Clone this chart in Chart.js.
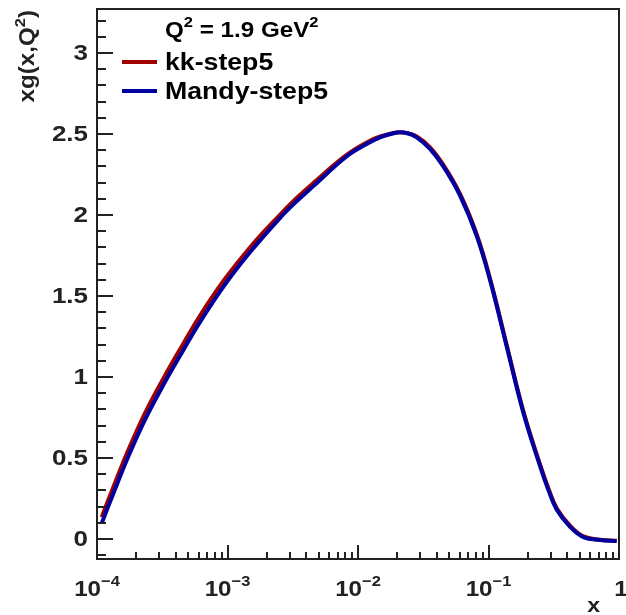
<!DOCTYPE html>
<html>
<head>
<meta charset="utf-8">
<script src="https://cdn.jsdelivr.net/npm/chart.js@4.4.1/dist/chart.umd.min.js"></script>
<style>
  body { margin: 0; background: #fff; }
  #plot { display: block; }
</style>
</head>
<body>
<canvas id="plot" width="626" height="615"></canvas>
<script>
// values
const xValues = [1.086e-4, 1.349e-4, 1.718e-4, 2.344e-4, 3.221e-4, 4.467e-4, 6.166e-4, 9.55e-4,
    1.486e-3, 2.512e-3, 3.388e-3, 4.571e-3, 8.128e-3, 1.175e-2, 1.479e-2, 1.995e-2, 2.399e-2,
    2.818e-2, 3.548e-2, 4.508e-2, 6.053e-2, 8.128e-2, 0.1026, 0.1377, 0.1849, 0.2483, 0.2884,
    0.3334, 0.4217, 0.5333, 0.7145, 0.9594];
const kkValues = [0.135, 0.33, 0.54, 0.78, 0.99, 1.19, 1.38, 1.605,
    1.80, 2.00, 2.105, 2.20, 2.37, 2.45, 2.485, 2.51, 2.505,
    2.485, 2.42, 2.31, 2.13, 1.88, 1.61, 1.20, 0.79, 0.46, 0.31,
    0.19, 0.082, 0.016, -0.004, -0.011];
const mandyValues = [0.097, 0.29, 0.50, 0.74, 0.95, 1.15, 1.34, 1.57,
    1.77, 1.98, 2.085, 2.18, 2.36, 2.44, 2.48, 2.51, 2.505,
    2.48, 2.41, 2.30, 2.12, 1.87, 1.60, 1.19, 0.78, 0.45, 0.30,
    0.18, 0.075, 0.012, -0.006, -0.012];

const yTicks = [0, 0.5, 1, 1.5, 2, 2.5, 3];
const yTickLabels = ['0', '0.5', '1', '1.5', '2', '2.5', '3'];
const xTicks = [1e-4, 1e-3, 1e-2, 1e-1, 1];
const xTickBase = ['10', '10', '10', '10', '1'];
const xTickExp = ['\u22124', '\u22123', '\u22122', '\u22121', ''];

const seriesNames = ['kk-step5', 'Mandy-step5'];
const seriesColors = ['#a00000', '#0000a0'];

const FONT = '"Liberation Sans", Arial, sans-serif';

function toPoints(ys) {
    return xValues.map((x, i) => ({ x: x, y: ys[i] }));
}

// draws a run of [text, size, dy] pieces starting at x, returns end x
function drawPieces(ctx, pieces, x, y, sx) {
    let cx = x;
    pieces.forEach(p => {
        ctx.save();
        ctx.font = 'bold ' + p[1] + 'px ' + FONT;
        ctx.translate(cx, y + (p[2] || 0));
        ctx.scale(sx, 1);
        ctx.textAlign = 'left';
        ctx.fillText(p[0], 0, 0);
        cx += ctx.measureText(p[0]).width * sx;
        ctx.restore();
    });
    return cx;
}

function piecesWidth(ctx, pieces, sx) {
    let w = 0;
    pieces.forEach(p => {
        ctx.save();
        ctx.font = 'bold ' + p[1] + 'px ' + FONT;
        w += ctx.measureText(p[0]).width * sx;
        ctx.restore();
    });
    return w;
}

const rootFrame = {
    id: 'rootFrame',
    afterDraw(chart) {
        const ctx = chart.ctx;
        const area = chart.chartArea;
        const xs = chart.scales.x;
        const ys = chart.scales.y;
        ctx.save();
        ctx.strokeStyle = '#222';
        ctx.fillStyle = '#222';
        ctx.lineWidth = 2;
        ctx.strokeRect(area.left, area.top, area.right - area.left, area.bottom - area.top);

        // y ticks
        ctx.beginPath();
        for (let i = -1; i <= 32; i++) {
            const v = i / 10;
            const py = Math.round(ys.getPixelForValue(v));
            if (py < area.top || py > area.bottom) continue;
            const len = (i % 5 === 0) ? 16 : 9;
            ctx.moveTo(area.left, py);
            ctx.lineTo(area.left + len, py);
        }
        // x ticks
        for (let d = -4; d < 0; d++) {
            for (let m = 1; m <= 9; m++) {
                const px = Math.round(xs.getPixelForValue(m * Math.pow(10, d)));
                const len = (m === 1) ? 14 : 7;
                ctx.moveTo(px, area.bottom);
                ctx.lineTo(px, area.bottom - len);
            }
        }
        ctx.stroke();

        // y tick labels
        ctx.textBaseline = 'middle';
        yTicks.forEach((v, i) => {
            const py = ys.getPixelForValue(v);
            const lab = [[yTickLabels[i], 22]];
            drawPieces(ctx, lab, 88 - piecesWidth(ctx, lab, 1.18), py + 1, 1.18);
        });

        // x tick labels
        ctx.textBaseline = 'alphabetic';
        xTicks.forEach((v, i) => {
            const px = xs.getPixelForValue(v);
            const pieces = [[xTickBase[i], 22]];
            if (xTickExp[i]) pieces.push([xTickExp[i], 15, -10]);
            const w = piecesWidth(ctx, pieces, 1.1);
            drawPieces(ctx, pieces, px - w / 2 + (xTickExp[i] ? 0 : 2), 596, 1.1);
        });

        // axis titles
        const xt = [['x', 21]];
        drawPieces(ctx, xt, 600 - piecesWidth(ctx, xt, 1.1), 612, 1.1);

        const yt = [['xg(x,Q', 22], ['2', 15, -9], [')', 22]];
        ctx.save();
        ctx.translate(34, 0);
        ctx.rotate(-Math.PI / 2);
        drawPieces(ctx, yt, -10 - piecesWidth(ctx, yt, 1.1), 0, 1.1);
        ctx.restore();

        // legend
        ctx.fillStyle = '#000';
        drawPieces(ctx, [['Q', 22], ['2', 15, -10], [' = 1.9 GeV', 22], ['2', 15, -10]], 165, 37, 1.1);
        const legY = [62, 91];
        seriesNames.forEach((name, i) => {
            ctx.strokeStyle = seriesColors[i];
            ctx.lineWidth = 4;
            ctx.beginPath();
            ctx.moveTo(122, legY[i]);
            ctx.lineTo(157, legY[i]);
            ctx.stroke();
            ctx.fillStyle = '#000';
            drawPieces(ctx, [[name, 23]], 165, legY[i] + 8, 1.16);
        });
        ctx.restore();
    }
};

new Chart(document.getElementById('plot'), {
    type: 'line',
    data: {
        datasets: [{
            label: seriesNames[0],
            data: toPoints(kkValues),
            borderColor: seriesColors[0],
            borderWidth: 4,
            pointRadius: 0,
            tension: 0.4,
            fill: false,
            order: 2
        }, {
            label: seriesNames[1],
            data: toPoints(mandyValues),
            borderColor: seriesColors[1],
            borderWidth: 4,
            pointRadius: 0,
            tension: 0.4,
            fill: false,
            order: 1
        }]
    },
    options: {
        responsive: false,
        animation: false,
        layout: { padding: { left: 97, right: 7, top: 9, bottom: 56 } },
        plugins: { legend: { display: false }, tooltip: { enabled: false } },
        scales: {
            x: { type: 'logarithmic', min: 1e-4, max: 1, display: false },
            y: { type: 'linear', min: -0.1235, max: 3.272, display: false }
        }
    },
    plugins: [rootFrame]
});
</script>
</body>
</html>
